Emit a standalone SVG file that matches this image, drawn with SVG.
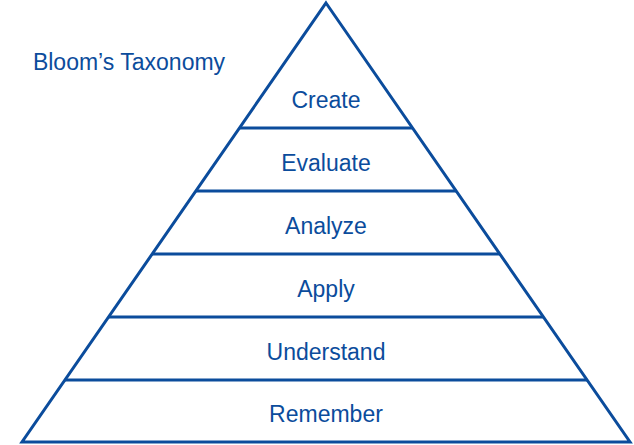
<svg xmlns="http://www.w3.org/2000/svg" width="634" height="445" viewBox="0 0 634 445">
<style>
.l{stroke:#0b4c9c;stroke-width:3;fill:none;stroke-linejoin:miter}
text{font-family:"Liberation Sans",Arial,sans-serif;font-size:23px;fill:#0b4c9c;text-anchor:middle}
</style>
<rect width="634" height="445" fill="#fff"/>
<text x="129" y="70">Bloom’s Taxonomy</text>
<g id="pyramid"><path class="l" d="M326,3 L630,442 L22,442 Z"/></g>
<g id="connectors">
<line class="l" x1="239.4" y1="128" x2="412.6" y2="128"/>
<line class="l" x1="195.8" y1="191" x2="456.2" y2="191"/>
<line class="l" x1="152.1" y1="254" x2="499.9" y2="254"/>
<line class="l" x1="108.5" y1="317" x2="543.5" y2="317"/>
<line class="l" x1="64.9" y1="380" x2="587.1" y2="380"/>
</g>
<g id="create"><text x="326" y="108">Create</text></g>
<g id="evaluate"><text x="326" y="171">Evaluate</text></g>
<g id="analyze"><text x="326" y="234">Analyze</text></g>
<g id="apply"><text x="326" y="297">Apply</text></g>
<g id="understand"><text x="326" y="360">Understand</text></g>
<g id="remember"><text x="326" y="422">Remember</text></g>
</svg>
